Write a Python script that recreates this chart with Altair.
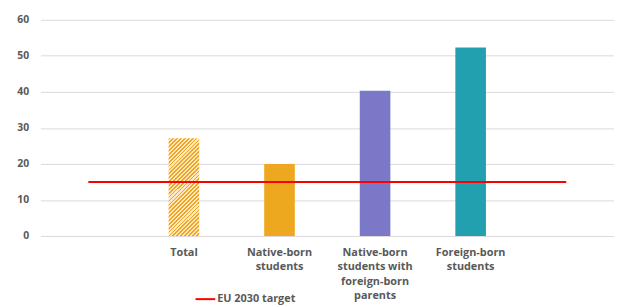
import altair as alt
import pandas as pd

# Categories (two empty slots at the ends, as in the original Excel chart)
categories = [" ", "Total", "Native-born|students",
              "Native-born|students with|foreign-born|parents",
              "Foreign-born|students", "  "]
bar_categories = ["Total", "Native-born|students",
                  "Native-born|students with|foreign-born|parents",
                  "Foreign-born|students"]
bar_values = [27.1, 20.0, 40.3, 52.3]
bar_colors = ["#F0A820", "#EEA820", "#7B78C8", "#22A0B0"]
target_values = [15, 15, 15, 15, 15, 15]
target_label = "EU 2030 target"
y_ticks = [0, 10, 20, 30, 40, 50, 60]

bars = pd.DataFrame({"cat": bar_categories, "value": bar_values, "color": bar_colors})
target = pd.DataFrame({"cat": categories, "value": target_values,
                       "series": [target_label] * len(categories)})

# diagonal hatch built from a striped linear gradient
stops = []
n = 33
for k in range(n):
    a = k / n
    b = (k + 0.45) / n
    c = (k + 1) / n
    stops += [alt.GradientStop(offset=a, color="#F0A420"),
              alt.GradientStop(offset=b, color="#F0A420"),
              alt.GradientStop(offset=b, color="#FDE8C2"),
              alt.GradientStop(offset=c, color="#FDE8C2")]
hatch = alt.LinearGradient(gradient="linear", stops=stops, x1=0, y1=0, x2=0.374, y2=1.196)

FONT = "Open Sans"
GRAY = "#595959"

x_enc = alt.X("cat:N", sort=categories, scale=alt.Scale(domain=categories, paddingInner=0, paddingOuter=0),
              axis=alt.Axis(title=None, labelAngle=0, domain=False, ticks=False, grid=False,
                            labelExpr="split(datum.value, '|')", labelFont=FONT, labelFontWeight="bold",
                            labelFontSize=11, labelColor=GRAY, labelLineHeight=14.5,
                            labelBaseline="top", labelPadding=11))
y_enc = alt.Y("value:Q", scale=alt.Scale(domain=[0, 60], nice=False),
              axis=alt.Axis(title=None, values=y_ticks, domain=False, ticks=False,
                            gridColor="#D9D9D9", gridWidth=1, labelFont=FONT, labelFontWeight="bold",
                            labelFontSize=10.5, labelColor=GRAY, labelPadding=12))

solid = alt.Chart(bars).transform_filter(alt.datum.cat != "Total").mark_bar(width=31).encode(
    x=x_enc, y=y_enc, color=alt.Color("color:N", scale=None))
hatched = alt.Chart(bars).transform_filter(alt.datum.cat == "Total").mark_bar(width=31, fill=hatch).encode(
    x=x_enc, y=y_enc)
line = alt.Chart(target).mark_line(strokeWidth=2).encode(
    x=x_enc, y=y_enc,
    color=alt.Color("series:N", scale=alt.Scale(domain=[target_label], range=["#FF0000"]),
                    legend=alt.Legend(title=None, orient="none", legendX=156, legendY=272,
                                      symbolType="stroke", symbolSize=400, symbolStrokeWidth=2,
                                      labelFont=FONT, labelFontWeight="bold", labelFontSize=11,
                                      labelColor=GRAY, labelOffset=1, padding=0)))

chart = alt.layer(solid, hatched, line).properties(
    width=581, height=219,
    autosize=alt.AutoSizeParams(type="none"),
    padding={"left": 33, "top": 10, "right": 0, "bottom": 70},
).configure_view(stroke=None)

chart.save("out.html", embed_options={"renderer": "svg", "actions": False})
